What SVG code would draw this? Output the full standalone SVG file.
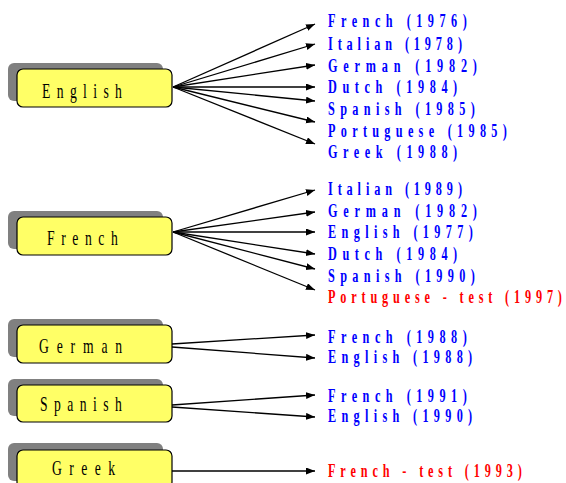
<svg xmlns="http://www.w3.org/2000/svg" width="566" height="483" viewBox="0 0 566 483">
<style>
.sh{fill:#808080}
.bx{fill:#ffff66;stroke:#000;stroke-width:1.2}
.bl{font-family:"Liberation Serif",serif;font-size:21px;fill:#000}
.lb{font-family:"Liberation Serif",serif;font-size:18px;font-weight:bold;fill:#0000ff}
.rd{fill:#ff0000}
.cn line{stroke:#000;stroke-width:1.3;marker-end:url(#ah)}
</style>
<defs>
<marker id="ah" markerUnits="userSpaceOnUse" markerWidth="10" markerHeight="8" refX="9" refY="3.5" orient="auto">
<path d="M0,0 L9,3.5 L0,7 z" fill="#000"/>
</marker>
</defs>
<rect width="566" height="483" fill="#fff"/>

<g id="english">
<rect class="sh" x="8" y="63" width="155" height="38" rx="6"/>
<rect class="bx" x="17" y="69" width="155" height="38" rx="6"/>
<g transform="translate(42,98) scale(0.65,1)"><text class="bl" textLength="123" lengthAdjust="spacing">English</text></g>
</g>
<g id="french">
<rect class="sh" x="8" y="211" width="155" height="38" rx="6"/>
<rect class="bx" x="17" y="217" width="155" height="38" rx="6"/>
<g transform="translate(47,245) scale(0.65,1)"><text class="bl" textLength="109" lengthAdjust="spacing">French</text></g>
</g>
<g id="german">
<rect class="sh" x="8" y="319" width="155" height="38" rx="6"/>
<rect class="bx" x="17" y="325" width="155" height="38" rx="6"/>
<g transform="translate(39,353) scale(0.65,1)"><text class="bl" textLength="128" lengthAdjust="spacing">German</text></g>
</g>
<g id="spanish">
<rect class="sh" x="8" y="379" width="155" height="37" rx="6"/>
<rect class="bx" x="17" y="385" width="155" height="37" rx="6"/>
<g transform="translate(40,411) scale(0.65,1)"><text class="bl" textLength="126" lengthAdjust="spacing">Spanish</text></g>
</g>
<g id="greek">
<rect class="sh" x="8" y="443" width="155" height="38" rx="6"/>
<rect class="bx" x="17" y="450" width="155" height="38" rx="6"/>
<g transform="translate(52,475) scale(0.65,1)"><text class="bl" textLength="97" lengthAdjust="spacing">Greek</text></g>
</g>

<g id="connectors" class="cn">
<line x1="173" y1="87" x2="315" y2="24"/>
<line x1="173" y1="87" x2="315" y2="44"/>
<line x1="173" y1="87" x2="315" y2="65"/>
<line x1="173" y1="87" x2="315" y2="87"/>
<line x1="173" y1="87" x2="315" y2="101"/>
<line x1="173" y1="87" x2="315" y2="122"/>
<line x1="173" y1="87" x2="315" y2="144"/>
<line x1="173" y1="232" x2="315" y2="190"/>
<line x1="173" y1="232" x2="315" y2="212"/>
<line x1="173" y1="232" x2="315" y2="232"/>
<line x1="173" y1="232" x2="315" y2="254"/>
<line x1="173" y1="232" x2="315" y2="269"/>
<line x1="173" y1="232" x2="315" y2="290"/>
<line x1="172" y1="344" x2="315" y2="335"/>
<line x1="172" y1="347" x2="315" y2="358"/>
<line x1="172" y1="405" x2="315" y2="395"/>
<line x1="172" y1="407" x2="315" y2="417"/>
<line x1="172" y1="471" x2="315" y2="471"/>
</g>

<g id="labels">
<g transform="translate(328,27) scale(0.68,1)"><text class="lb" textLength="204" lengthAdjust="spacing">French (1976)</text></g>
<g transform="translate(328,50) scale(0.68,1)"><text class="lb" textLength="197" lengthAdjust="spacing">Italian (1978)</text></g>
<g transform="translate(328,72) scale(0.68,1)"><text class="lb" textLength="219" lengthAdjust="spacing">German (1982)</text></g>
<g transform="translate(328,93) scale(0.68,1)"><text class="lb" textLength="190" lengthAdjust="spacing">Dutch (1984)</text></g>
<g transform="translate(328,115) scale(0.68,1)"><text class="lb" textLength="216" lengthAdjust="spacing">Spanish (1985)</text></g>
<g transform="translate(328,137) scale(0.68,1)"><text class="lb" textLength="263" lengthAdjust="spacing">Portuguese (1985)</text></g>
<g transform="translate(328,158) scale(0.68,1)"><text class="lb" textLength="190" lengthAdjust="spacing">Greek (1988)</text></g>

<g transform="translate(328,195) scale(0.68,1)"><text class="lb" textLength="197" lengthAdjust="spacing">Italian (1989)</text></g>
<g transform="translate(328,217) scale(0.68,1)"><text class="lb" textLength="219" lengthAdjust="spacing">German (1982)</text></g>
<g transform="translate(328,238) scale(0.68,1)"><text class="lb" textLength="213" lengthAdjust="spacing">English (1977)</text></g>
<g transform="translate(328,260) scale(0.68,1)"><text class="lb" textLength="190" lengthAdjust="spacing">Dutch (1984)</text></g>
<g transform="translate(328,282) scale(0.68,1)"><text class="lb" textLength="216" lengthAdjust="spacing">Spanish (1990)</text></g>
<g transform="translate(328,303) scale(0.68,1)"><text class="lb rd" textLength="344" lengthAdjust="spacing">Portuguese - test (1997)</text></g>

<g transform="translate(328,343) scale(0.68,1)"><text class="lb" textLength="204" lengthAdjust="spacing">French (1988)</text></g>
<g transform="translate(328,363) scale(0.68,1)"><text class="lb" textLength="212" lengthAdjust="spacing">English (1988)</text></g>

<g transform="translate(328,402) scale(0.68,1)"><text class="lb" textLength="204" lengthAdjust="spacing">French (1991)</text></g>
<g transform="translate(328,422) scale(0.68,1)"><text class="lb" textLength="212" lengthAdjust="spacing">English (1990)</text></g>

<g transform="translate(328,477) scale(0.68,1)"><text class="lb rd" textLength="285" lengthAdjust="spacing">French - test (1993)</text></g>
</g>
</svg>
